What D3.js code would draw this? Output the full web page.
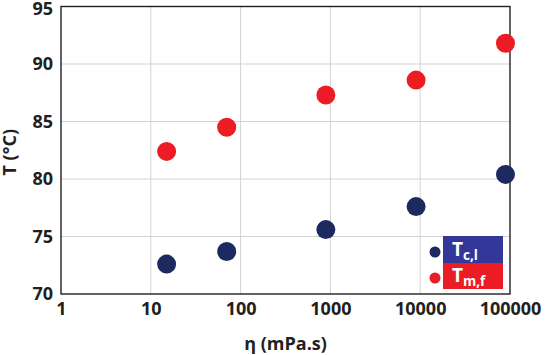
<!DOCTYPE html>
<html><head><meta charset="utf-8">
<script src="https://cdn.jsdelivr.net/npm/d3@7"></script>
<style>body{margin:0;background:#fff}svg{display:block}text{font-family:"Open Sans","Liberation Sans",sans-serif;font-weight:700;fill:#231f20}</style>
</head><body><svg id="c" width="545" height="355"></svg>
<script>
const viscosity = [15, 70, 890, 9000, 89000];
const Tcl = [72.6, 73.7, 75.6, 77.6, 80.4];
const Tmf = [82.4, 84.5, 87.3, 88.6, 91.8];
const xTicks = [1, 10, 100, 1000, 10000, 100000];
const yTicks = [70, 75, 80, 85, 90, 95];

const svg = d3.select("#c");
const L = 61, R = 510, T = 6.5, B = 294;
const x = d3.scaleLog().domain([1, 100000]).range([L, R]);
const y = d3.scaleLinear().domain([70, 95]).range([B, T]);

// grid
svg.append("g").selectAll("line").data(xTicks.slice(1, -1)).join("line")
  .attr("x1", d => x(d)).attr("x2", d => x(d)).attr("y1", T).attr("y2", B)
  .attr("stroke", "#d2d2d2").attr("stroke-width", 1);
svg.append("g").selectAll("line").data(yTicks.slice(1, -1)).join("line")
  .attr("x1", L).attr("x2", R).attr("y1", d => y(d)).attr("y2", d => y(d))
  .attr("stroke", "#d2d2d2").attr("stroke-width", 1);

// frame
svg.append("rect").attr("x", L).attr("y", T).attr("width", R - L).attr("height", B - T)
  .attr("fill", "none").attr("stroke", "#231f20").attr("stroke-width", 1.4);

// axes labels via d3 axes
const xAxis = svg.append("g").attr("transform", `translate(0,${B})`)
  .call(d3.axisBottom(x).tickValues(xTicks).tickFormat(d3.format("d")).tickSize(0).tickPadding(8));
xAxis.select(".domain").remove();
xAxis.selectAll("text").attr("font-size", 18).attr("dy", "0.71em").attr("fill", "#231f20")
  .style("font-family", '"Open Sans","Liberation Sans",sans-serif').style("font-weight", 700);

const yAxis = svg.append("g").attr("transform", `translate(${L},0)`)
  .call(d3.axisLeft(y).tickValues(yTicks).tickFormat(d3.format("d")).tickSize(0).tickPadding(8));
yAxis.select(".domain").remove();
yAxis.selectAll("text").attr("font-size", 18).attr("fill", "#231f20")
  .style("font-family", '"Open Sans","Liberation Sans",sans-serif').style("font-weight", 700);
yAxis.selectAll(".tick").filter(d => d === 95).select("text").attr("dy", "0.42em");

// axis titles
svg.append("text").attr("x", (L + R) / 2).attr("y", 350).attr("text-anchor", "middle")
  .attr("font-size", 18).text("η (mPa.s)");
svg.append("text").attr("transform", `translate(16,${(T + B) / 2 + 2}) rotate(-90)`)
  .attr("text-anchor", "middle").attr("font-size", 18).text("T (°C)");

// points
const rows = viscosity.map((v, i) => ({v, a: Tcl[i], b: Tmf[i]}));
svg.append("g").selectAll("circle").data(rows).join("circle")
  .attr("cx", d => x(d.v)).attr("cy", d => y(d.b)).attr("r", 9.5).attr("fill", "#ec1c24");
svg.append("g").selectAll("circle").data(rows).join("circle")
  .attr("cx", d => x(d.v)).attr("cy", d => y(d.a)).attr("r", 9.5).attr("fill", "#1d2a5f");

// legend
const lg = svg.append("g");
lg.append("rect").attr("x", 443).attr("y", 236).attr("width", 60).attr("height", 27).attr("fill", "#34379a");
lg.append("rect").attr("x", 443).attr("y", 263).attr("width", 60).attr("height", 26).attr("fill", "#ec1c24");
lg.append("circle").attr("cx", 435).attr("cy", 252).attr("r", 5.5).attr("fill", "#1d2a5f");
lg.append("circle").attr("cx", 435).attr("cy", 278).attr("r", 5.5).attr("fill", "#ec1c24");
const t1 = lg.append("text").attr("x", 452).attr("y", 256).attr("font-size", 19).style("fill", "#fff");
t1.append("tspan").text("T");
t1.append("tspan").attr("font-size", 13.5).attr("dy", 4).text("c,l");
const t2 = lg.append("text").attr("x", 452).attr("y", 282).attr("font-size", 19).style("fill", "#fff");
t2.append("tspan").text("T");
t2.append("tspan").attr("font-size", 13.5).attr("dy", 4).text("m,f");
</script></body></html>
